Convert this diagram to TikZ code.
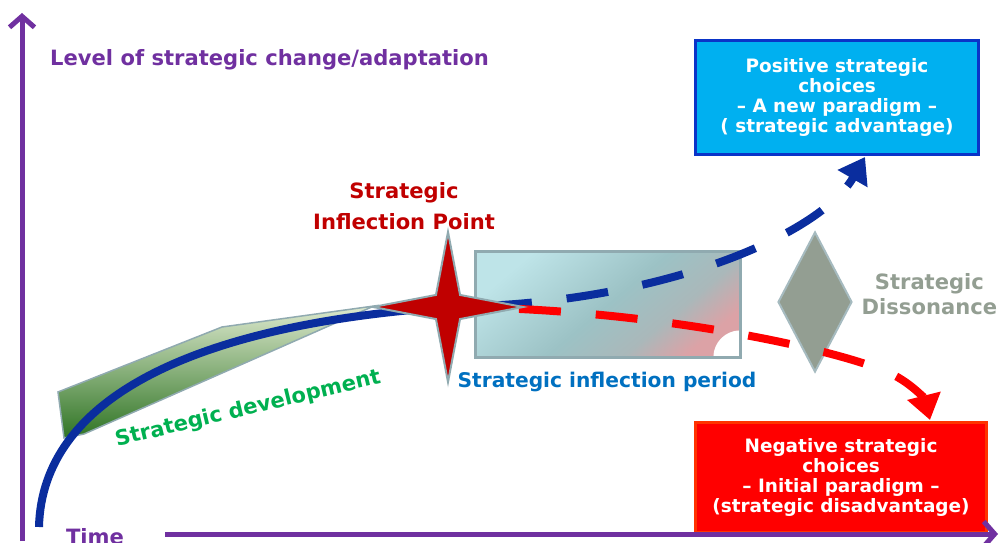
\documentclass[tikz,border=0pt]{standalone}
\usepackage{fontspec}
\setmainfont{DejaVu Sans}
\usetikzlibrary{arrows.meta,positioning,shapes.geometric}
\definecolor{axispurple}{HTML}{7030A0}
\definecolor{curveblue}{HTML}{0A2D9E}
\definecolor{sipred}{HTML}{C00000}
\definecolor{edgegray}{HTML}{90AAB0}
\definecolor{devgreen}{HTML}{00B050}
\definecolor{devlight}{HTML}{DDE9CE}
\definecolor{devdark}{HTML}{2F7424}
\definecolor{periodblue}{HTML}{0070C0}
\definecolor{periodleft}{HTML}{BEE4E8}
\definecolor{periodmid}{HTML}{9CC2C5}
\definecolor{periodgray}{HTML}{AAB8BA}
\definecolor{periodright}{HTML}{DCA2A6}
\definecolor{posfill}{HTML}{00B0F0}
\definecolor{posdraw}{HTML}{0A34C8}
\definecolor{negfill}{HTML}{FF0000}
\definecolor{negdraw}{HTML}{FF3300}
\definecolor{dissgray}{HTML}{939E92}
\pgfdeclarehorizontalshading{periodshade}{100bp}{color(0bp)=(periodleft); color(25bp)=(periodleft);
	color(50bp)=(periodmid); color(64bp)=(periodgray); color(75bp)=(periodright); color(100bp)=(periodright)}
\tikzset{
	axisline/.style={
		draw=axispurple,
		line width=0.1cm,
		-{Straight Barb[length=0.22cm,width=0.5cm]}
	},
	bigtext/.style={
		font=\bfseries\fontsize{12}{17.5}\selectfont,
		align=center
	},
	choice/.style={
		draw,
		line width=0.06cm,
		text=white,
		align=center,
		font=\bfseries\fontsize{10.5}{11.4}\selectfont
	},
	trend/.style={
		line width=0.16cm,
		dash pattern=on 0.84cm off 0.7cm,
		-{Triangle[length=0.5cm,width=0.66cm]}
	}
}

\begin{document}
\begin{tikzpicture}[x=0.02cm,y=-0.02cm]
	\useasboundingbox (0,0) rectangle (1000,543);

	% outcome boxes
	\node[choice, fill=posfill, draw=posdraw, minimum width=5.68cm, minimum height=2.3cm] (posbox) at (837,97.5) {Positive strategic\\choices\\– A new paradigm –\\( strategic advantage)};
	\node[choice, fill=negfill, draw=negdraw, minimum width=5.84cm, minimum height=2.22cm] (negbox) at (841,477.5) {Negative strategic\\choices\\– Initial paradigm –\\(strategic disadvantage)};

	% axes
	\coordinate (ybot) at (22,541);
	\coordinate (ytop) at (22,13);
	\coordinate (xleft) at (165,534);
	\coordinate (xright) at (998,534);
	\draw[axisline] (ybot) -- (ytop);
	\draw[axisline] (xleft) -- (xright);
	\node[bigtext, text=axispurple, anchor=west] (ylabel) at (44,60) {Level of strategic change/adaptation};
	\node[bigtext, text=axispurple, anchor=base] (xlabel) at (95,544) {Time};

	% development
	\draw[top color=devlight, bottom color=devdark, draw=edgegray, line width=0.03cm]
		(58,392) -- (222,327) -- (374,306) -- (84,434) -- (64,438) -- cycle;
	\coordinate (origin) at (39,527);
	\coordinate (sipc) at (448,307);
	\draw[curveblue, line width=0.16cm] (origin) .. controls (42,400) and (190,325) .. (sipc);
	\node[bigtext, text=devgreen, rotate=13.5] (devlabel) at (248,409) {Strategic development};

	% inflection period
	\node[shading=periodshade, shading angle=-50, minimum width=5.28cm, minimum height=2.1cm, inner sep=0pt] (period) at (608,304.5) {};
	\fill[white] (period.south east) ++(-0.54cm,0) arc[start angle=180,end angle=90,radius=0.54cm] -- (period.south east) -- cycle;
	\draw[edgegray, line width=0.05cm] (period.south west) rectangle (period.north east);
	\node[bigtext, text=periodblue, font=\bfseries\fontsize{11.5}{14}\selectfont] (periodlabel) at (607,382) {Strategic inflection period};

	% dissonance
	\node[diamond, fill=dissgray, draw=edgegray!80, line width=0.04cm, minimum width=1.48cm, minimum height=2.8cm, inner sep=0pt] (diss) at (815,302) {};
	\node[bigtext, text=dissgray, font=\bfseries\fontsize{12}{14.2}\selectfont, right=0.05cm of diss, yshift=0.15cm] (disslabel) {Strategic\\Dissonance};

	% the two paths
	\coordinate (postip) at (865,157);
	\coordinate (negtip) at (930,420);
	\draw[trend, curveblue, dash phase=0.7cm] (sipc) .. controls (660,305) and (820,235) .. (postip);
	\draw[trend, red, dash phase=0.12cm] (sipc) .. controls (640,308) and (820,345) .. (885,371)
		.. controls (910,381) and (925,400) .. (negtip);

	% inflection point
	\node[star, star points=4, star point ratio=4.4, minimum size=3cm, inner sep=0pt, fill=sipred, draw=edgegray, line width=0.04cm] (sip) at (sipc) {};
	\node[bigtext, text=sipred] (siplabel) at (404,206) {Strategic\\Inflection Point};
\end{tikzpicture}
\end{document}
